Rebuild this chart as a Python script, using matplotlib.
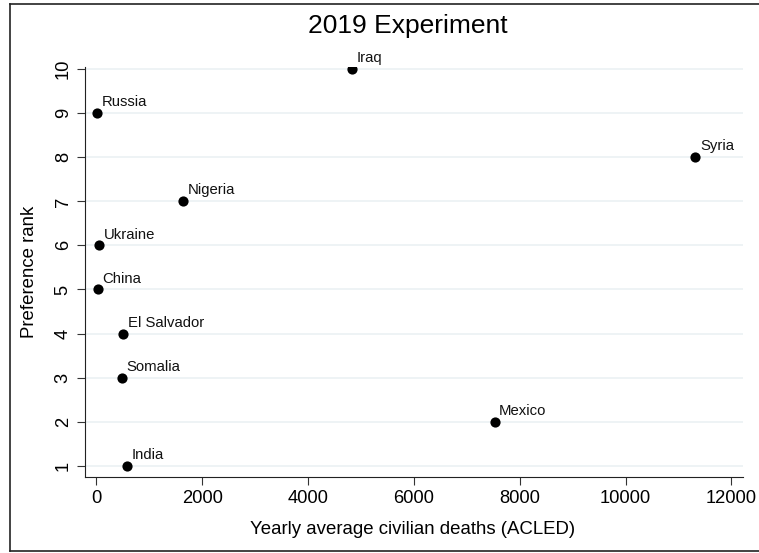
import matplotlib.pyplot as plt
from matplotlib.lines import Line2D

plt.rcParams['font.family'] = ['Liberation Sans', 'DejaVu Sans']

countries = ["Iraq", "Russia", "Syria", "Nigeria", "Ukraine", "China",
             "El Salvador", "Somalia", "Mexico", "India"]
deaths = [4830, 10, 11320, 1640, 57, 26, 505, 486, 7525, 580]
rank = [10, 9, 8, 7, 6, 5, 4, 3, 2, 1]

x_ticks = [0, 2000, 4000, 6000, 8000, 10000, 12000]
y_ticks = [1, 2, 3, 4, 5, 6, 7, 8, 9, 10]

W, H = 759, 553
fig = plt.figure(figsize=(W / 100, H / 100), dpi=100)
ax = fig.add_axes([85 / W, 1 - 477 / H, (743 - 85) / W, (477 - 67) / H])

ax.set_xlim(-214, 12220)
ax.set_ylim(0.744, 10.05)

# light horizontal grid at every rank
for y in y_ticks:
    ax.axhline(y, color="#e9f0f2", lw=1.1, zorder=0)

ax.scatter(deaths, rank, s=54, color="black", zorder=3, linewidths=0)
for name, x, y in zip(countries, deaths, rank):
    ax.annotate(name, (x, y), xytext=(3.3, 2.8), textcoords="offset points",
                fontsize=10.7, ha="left", va="bottom", color="#111111")

ax.set_xticks(x_ticks)
ax.set_yticks(y_ticks)
ax.set_xticklabels([str(t) for t in x_ticks])
ax.set_yticklabels([str(t) for t in y_ticks], rotation=90, va="center")
ax.tick_params(axis="both", labelsize=13.2, length=5.5, width=0.8,
               direction="out", color="#333333")
ax.tick_params(axis="x", pad=4)
ax.tick_params(axis="y", pad=4)

for side in ("top", "right"):
    ax.spines[side].set_visible(False)
for side in ("left", "bottom"):
    ax.spines[side].set_linewidth(0.8)
    ax.spines[side].set_color("#222222")

fig.text(408 / W, 1 - 26 / H, "2019 Experiment", fontsize=19,
         ha="center", va="center")
fig.text(413 / W, 1 - 530 / H, "Yearly average civilian deaths (ACLED)",
         fontsize=13.4, ha="center", va="center")
fig.text(30 / W, 1 - 272 / H, "Preference rank", fontsize=13.4,
         ha="center", va="center", rotation=90)

# outer graph frame: left, top and bottom edges
bx0, by0, by1 = 10 / W, 1 - 551 / H, 1 - 4 / H
for xs, ys in (([bx0, 1.01], [by1, by1]), ([bx0, bx0], [by0, by1]),
               ([bx0, 1.01], [by0, by0])):
    fig.add_artist(Line2D(xs, ys, color="#222222", lw=1.2))

fig.savefig("out.png", dpi=100)
